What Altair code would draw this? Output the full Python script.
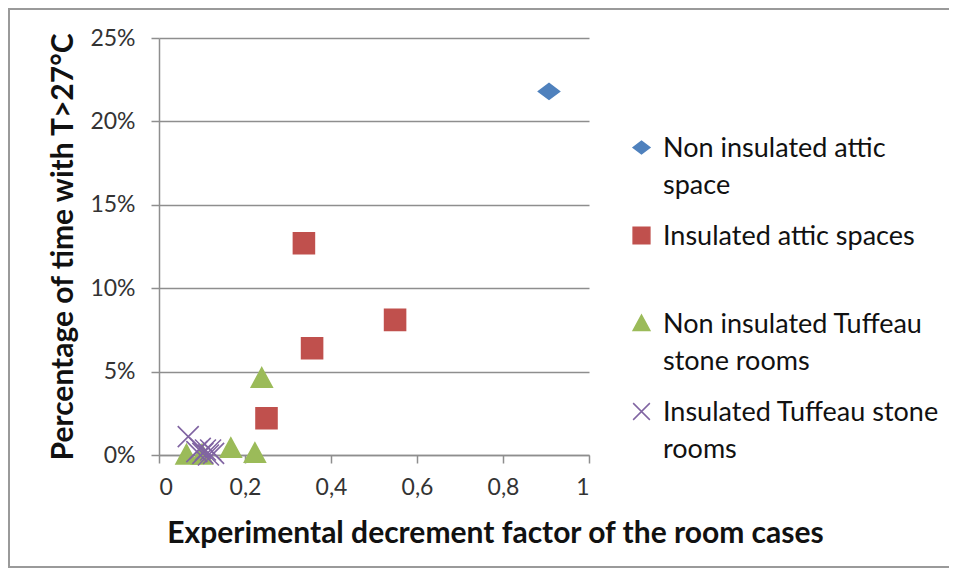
import altair as alt
import pandas as pd

categories = [
    "Non insulated attic space",
    "Insulated attic spaces",
    "Non insulated Tuffeau stone rooms",
    "Insulated Tuffeau stone rooms",
]
colors = ["#4F81BD", "#C0504D", "#9BBB59", "#8064A2"]

# series values (decrement factor, share of time above 27°C)
attic_x = [0.907]
attic_y = [0.218]
ins_attic_x = [0.337, 0.549, 0.356, 0.250]
ins_attic_y = [0.127, 0.081, 0.064, 0.022]
tuff_x = [0.239, 0.167, 0.223, 0.064, 0.100]
tuff_y = [0.046, 0.004, 0.001, 0.000, 0.000]
ins_tuff_x = [0.068, 0.088, 0.096, 0.102, 0.108, 0.115, 0.120, 0.127]
ins_tuff_y = [0.011, 0.002, 0.004, 0.001, 0.003, 0.000, 0.003, 0.001]

x_ticks = [0, 0.2, 0.4, 0.6, 0.8, 1]
y_ticks = [0, 0.05, 0.10, 0.15, 0.20, 0.25]

rows = []
for name, xs, ys in zip(categories,
                        [attic_x, ins_attic_x, tuff_x, ins_tuff_x],
                        [attic_y, ins_attic_y, tuff_y, ins_tuff_y]):
    for a, b in zip(xs, ys):
        rows.append({"series": name, "x": a, "y": b})
df = pd.DataFrame(rows)

shapes = [
    "M-1,0L0,-0.75L1,0L0,0.75Z",
    "square",
    "M0,-1L1,0.85L-1,0.85Z",
    "M-1,-1L1,1M-1,1L1,-1",
]

FONT = "Lato"
GRAY = "#8e8e8e"
LABEL_DY = -12

label_expr = (
    "datum.label == 'Non insulated attic space' ? ['Non insulated attic', 'space'] : "
    "datum.label == 'Insulated attic spaces' ? ['Insulated attic spaces', ''] : "
    "datum.label == 'Non insulated Tuffeau stone rooms' ? ['Non insulated Tuffeau', 'stone rooms'] : "
    "['Insulated Tuffeau stone', 'rooms']"
)

legend = alt.Legend(
    title=None,
    orient="none",
    legendX=469,
    legendY=96,
    padding=0,
    labelFont=FONT,
    labelFontSize=27,
    labelColor="#111111",
    labelExpr=label_expr,
    labelBaseline="top",
    labelLimit=500,
    labelOffset=8,
    symbolSize=280,
    symbolStrokeWidth=1.5,
    rowPadding=23,
)

points = alt.Chart(df).mark_point(filled=True, size=440, strokeWidth=1.6, opacity=1).encode(
    x=alt.X(
        "x:Q",
        scale=alt.Scale(domain=[0, 1], nice=False, zero=True),
        axis=alt.Axis(
            values=x_ticks,
            format="~g",
            labelExpr="replace(datum.label, '.', ',')",
            grid=False,
            domainColor=GRAY,
            domainWidth=1.5,
            tickColor=GRAY,
            tickWidth=1.5,
            tickSize=8,
            labelFont=FONT,
            labelFontSize=23,
            labelColor="#333333",
            labelPadding=14 - LABEL_DY - 1,
            title="Experimental decrement factor of the room cases",
            titleFont=FONT,
            titleFontSize=30,
            titleFontWeight="bold",
            titleColor="#111111",
            titleX=336,
            titleY=78,
            titleBaseline="middle",
        ),
    ),
    y=alt.Y(
        "y:Q",
        scale=alt.Scale(domain=[0, 0.25], nice=False),
        axis=alt.Axis(
            values=y_ticks,
            format=".0%",
            grid=True,
            gridColor=GRAY,
            gridWidth=1.5,
            domainColor=GRAY,
            domainWidth=1.5,
            tickColor=GRAY,
            tickWidth=1.5,
            tickSize=8,
            labelFont=FONT,
            labelFontSize=23,
            labelColor="#333333",
            labelPadding=16,
            labelOffset=-LABEL_DY,
            title="Percentage of time with T>27°C",
            titleFont=FONT,
            titleFontSize=30,
            titleFontWeight="bold",
            titleColor="#111111",
            titleX=-96,
            titleBaseline="middle",
        ),
    ),
    color=alt.Color("series:N", scale=alt.Scale(domain=categories, range=colors), legend=legend),
    stroke=alt.Stroke("series:N", scale=alt.Scale(domain=categories, range=colors), legend=legend),
    shape=alt.Shape("series:N", scale=alt.Scale(domain=categories, range=shapes), legend=legend),
    order=alt.Order("order:Q"),
).transform_calculate(
    order="indexof(['Non insulated attic space','Insulated attic spaces','Non insulated Tuffeau stone rooms','Insulated Tuffeau stone rooms'], datum.series)"
)

frame = alt.Chart(pd.DataFrame({"k": [0]})).mark_rect(
    fillOpacity=0, stroke="#9a9a9a", strokeWidth=2
).encode(
    x=alt.value(-150), x2=alt.value(795), y=alt.value(-29), y2=alt.value(529)
)

chart = alt.layer(frame, points).properties(
    width=430,
    height=417,
    padding={"left": 151, "top": 30, "right": 360, "bottom": 113},
    autosize=alt.AutoSizeParams(type="none"),
    background="white",
).configure(
    style={"guide-label": {"lineHeight": 37, "dy": LABEL_DY}}
).configure_view(stroke="transparent")

chart.save("out.html", embed_options={"renderer": "svg", "actions": False})
